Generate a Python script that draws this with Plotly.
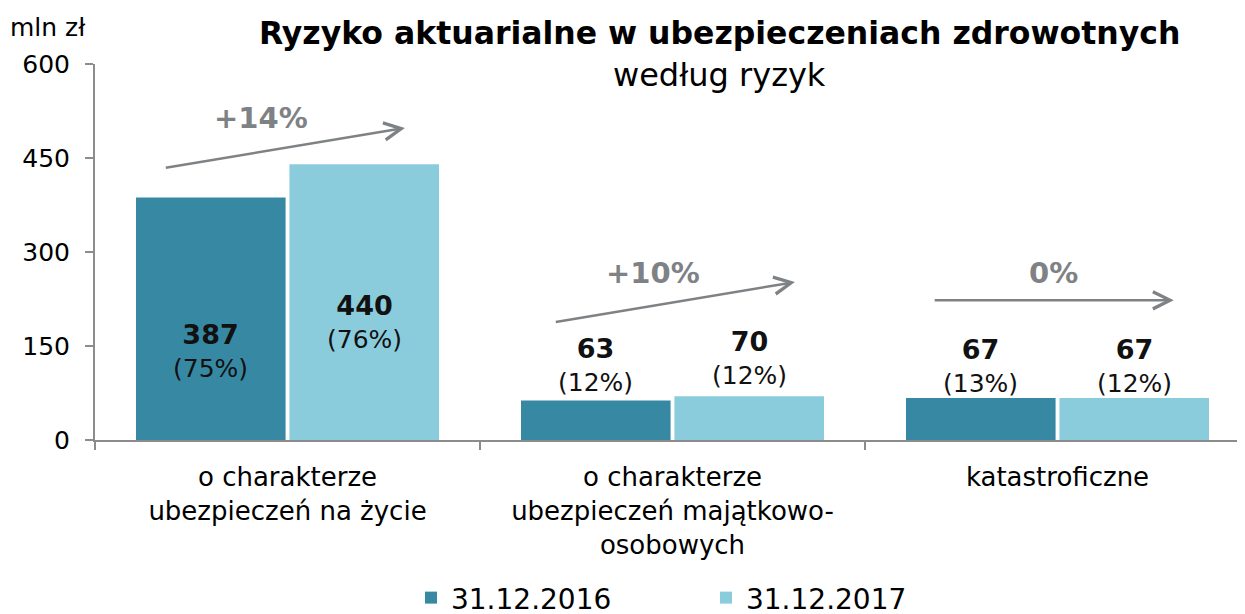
import plotly.graph_objects as go

categories = ["o charakterze<br>ubezpieczeń na życie",
              "o charakterze<br>ubezpieczeń majątkowo-<br>osobowych",
              "katastroficzne"]
series_names = ["31.12.2016", "31.12.2017"]
values_2016 = [387, 63, 67]
values_2017 = [440, 70, 67]
growth_labels = ["+14%", "+10%", "0%"]
y_ticks = [0, 150, 300, 450, 600]

DARK = "#3789A3"
LIGHT = "#8BCCDC"
GRAY = "#7F8285"
AXIS = "#8C8C8C"
FONT = "DejaVu Sans"

fig = go.Figure()
fig.add_trace(go.Bar(x=categories, y=values_2016, name=series_names[0],
                     marker=dict(color=DARK, line=dict(width=0))))
fig.add_trace(go.Bar(x=categories, y=values_2017, name=series_names[1],
                     marker=dict(color=LIGHT, line=dict(width=0))))

annotations = []

# value labels with shares
tot16 = sum(values_2016)
tot17 = sum(values_2017)
label_y16 = [142, 120, 118]
label_y17 = [189, 131, 118]
for i in range(3):
    for vals, tot, off, ly in ((values_2016, tot16, -0.2, label_y16[i]),
                                (values_2017, tot17, 0.2, label_y17[i])):
        share = round(vals[i] / tot * 100)
        annotations.append(dict(
            x=i + off, y=ly, xref="x", yref="y", showarrow=False, xanchor="center",
            text=f"<span style='font-size:27px'><b>{vals[i]}</b></span><br>({share}%)",
            font=dict(family=FONT, size=25, color="#111111"),
            align="center"))

# growth arrows
arrows = [(-0.32, 434, 0.305, 498), (0.693, 188, 1.318, 252), (1.677, 223, 2.302, 223)]
growth_pos = [(-0.07, 514), (0.95, 267), (1.99, 267)]
for (x0, y0, x1, y1), (gx, gy), lab in zip(arrows, growth_pos, growth_labels):
    annotations.append(dict(
        x=x1, y=y1, ax=x0, ay=y0, xref="x", yref="y", axref="x", ayref="y",
        text="", showarrow=True, arrowhead=5, arrowsize=1.35, arrowwidth=2.5,
        arrowcolor=GRAY, standoff=0, startstandoff=0))
    annotations.append(dict(
        x=gx, y=gy, xref="x", yref="y", showarrow=False, xanchor="center",
        text=f"<b>{lab}</b>", font=dict(family=FONT, size=29, color=GRAY)))

# titles
annotations.append(dict(x=0.541, y=1.082, xref="paper", yref="paper", showarrow=False,
                        xanchor="center",
                        text="<b>Ryzyko aktuarialne w ubezpieczeniach zdrowotnych</b>",
                        font=dict(family=FONT, size=31.5, color="#000000"), yanchor="middle"))
annotations.append(dict(x=0.541, y=0.971, xref="paper", yref="paper", showarrow=False,
                        xanchor="center", text="według ryzyk",
                        font=dict(family=FONT, size=32, color="#000000"), yanchor="middle"))
annotations.append(dict(x=-0.041, y=1.096, xref="paper", yref="paper", showarrow=False,
                        xanchor="center", text="mln zł",
                        font=dict(family=FONT, size=25, color="#000000"), yanchor="middle"))

fig.update_layout(
    width=1245, height=614,
    margin=dict(l=87, r=3, t=56, b=182, autoexpand=False),
    paper_bgcolor="white", plot_bgcolor="white",
    barmode="group", bargap=0.203, bargroupgap=0.025,
    font=dict(family=FONT, color="#000000"),
    showlegend=True,
    legend=dict(orientation="h", x=0.529, xanchor="center", y=-0.42, yanchor="middle",
                font=dict(family=FONT, size=28), entrywidth=250),
    annotations=annotations,
    xaxis=dict(type="category", tickson="boundaries", ticks="outside", ticklen=8,
               tickcolor=AXIS, tickwidth=2, showline=True, linecolor=AXIS, linewidth=2,
               showgrid=False, automargin=False, ticklabelstandoff=13,
               tickfont=dict(family=FONT, size=26, color="#000000")),
    yaxis=dict(range=[0, 600], tickvals=y_ticks, ticks="outside", ticklen=8,
               tickcolor=AXIS, tickwidth=2, showline=True, linecolor=AXIS, linewidth=2,
               showgrid=False, zeroline=False, automargin=False, ticklabelstandoff=10,
               tickfont=dict(family=FONT, size=25, color="#000000")),
)

fig.write_html("out.html")
